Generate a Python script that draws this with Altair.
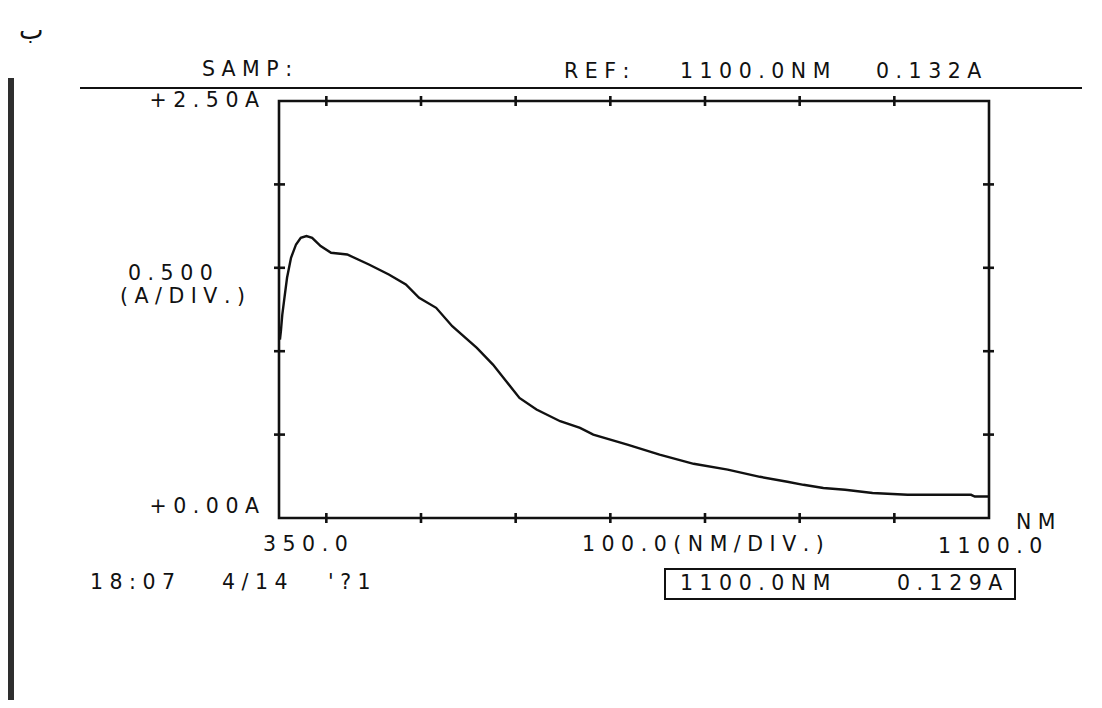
import altair as alt
import pandas as pd

# ---- data ----
wavelength_nm = [351, 352, 353.5, 355.3, 358.5, 362.7, 368, 373, 379, 385, 394, 405, 422, 445,
                 466, 484, 498, 516, 533, 559, 576, 590, 604, 622, 647, 668, 682, 718, 752,
                 788, 824, 858, 887, 904, 925, 948, 977, 1014, 1081, 1085, 1100]
absorbance = [1.07, 1.12, 1.22, 1.30, 1.44, 1.56, 1.64, 1.68, 1.69, 1.68, 1.63, 1.59, 1.58, 1.52,
              1.46, 1.40, 1.32, 1.26, 1.15, 1.02, 0.92, 0.82, 0.72, 0.65, 0.58, 0.54, 0.50, 0.44, 0.38,
              0.325, 0.29, 0.247, 0.217, 0.199, 0.18, 0.169, 0.15, 0.139, 0.139, 0.129, 0.129]
x_ticks = [400, 500, 600, 700, 800, 900, 1000]
y_ticks = [0.5, 1.0, 1.5, 2.0]

W, H = 710, 417
INK = "#111111"
FONT = "DejaVu Sans"
FS = 20.5

curve = pd.DataFrame({"nm": wavelength_nm, "A": absorbance})
xs = alt.Scale(domain=[350, 1100], nice=False, zero=False)
ys = alt.Scale(domain=[0, 2.5], nice=False, zero=False)

line = alt.Chart(curve).mark_line(color=INK, strokeWidth=2.4, strokeJoin="miter").encode(
    x=alt.X("nm:Q", scale=xs, axis=None),
    y=alt.Y("A:Q", scale=ys, axis=None),
)

xt = pd.DataFrame({"nm": x_ticks})
yt = pd.DataFrame({"A": y_ticks})
top_ticks = alt.Chart(xt).mark_rule(color=INK, strokeWidth=2.6).encode(
    x=alt.X("nm:Q", scale=xs, axis=None), y=alt.value(-5), y2=alt.value(5))
bot_ticks = alt.Chart(xt).mark_rule(color=INK, strokeWidth=2.6).encode(
    x=alt.X("nm:Q", scale=xs, axis=None), y=alt.value(H - 5), y2=alt.value(H + 5))
left_ticks = alt.Chart(yt).mark_rule(color=INK, strokeWidth=2.6).encode(
    y=alt.Y("A:Q", scale=ys, axis=None), x=alt.value(-5), x2=alt.value(6))
right_ticks = alt.Chart(yt).mark_rule(color=INK, strokeWidth=2.6).encode(
    y=alt.Y("A:Q", scale=ys, axis=None), x=alt.value(W - 6), x2=alt.value(W + 5))

one = alt.Data(values=[{"k": 0}])


def label(text, x, y, align="left", size=FS):
    return alt.Chart(one).mark_text(text=text, align=align, baseline="middle", font=FONT,
                                    fontSize=size, color=INK).encode(
        x=alt.value(x), y=alt.value(y))


def spaced(s):
    return " ".join(list(s))


header_rule = alt.Chart(one).mark_rule(color=INK, strokeWidth=2).encode(
    x=alt.value(-199), x2=alt.value(803), y=alt.value(-13))
left_bar = alt.Chart(one).mark_rect(color="#2e2e2e").encode(
    x=alt.value(-271), x2=alt.value(-265), y=alt.value(-23), y2=alt.value(600))
box = alt.Chart(one).mark_rect(fill="white", stroke=INK, strokeWidth=2).encode(
    x=alt.value(386), x2=alt.value(736), y=alt.value(468), y2=alt.value(498))

labels = [
    label("ب", -260, -70, size=26),
    label(spaced("SAMP:"), -77, -31),
    label(spaced("REF:"), 285, -29),
    label(spaced("1100.0NM"), 401, -29),
    label(spaced("0.132A"), 597, -29),
    label(spaced("+2.50A"), -20, 0, align="right"),
    label(spaced("+0.00A"), -20, 406, align="right"),
    label(spaced("0.500"), -151, 173),
    label(spaced("(A/DIV.)"), -159, 196),
    label(spaced("350.0"), -16, 444),
    label(spaced("100.0(NM/DIV.)"), 303, 444),
    label(spaced("1100.0"), 659, 446),
    label(spaced("NM"), 737, 422),
    label(spaced("18:07"), -189, 482),
    label(spaced("4/14"), -57, 482),
    label(spaced("'?1"), 49, 482),
    label(spaced("1100.0NM"), 401, 483),
    label(spaced("0.129A"), 618, 483),
]

chart = alt.layer(
    left_bar, header_rule, box, line, top_ticks, bot_ticks, left_ticks, right_ticks, *labels
).properties(
    width=W, height=H,
    padding={"left": 271, "top": 93, "right": 105, "bottom": 182},
    autosize=alt.AutoSizeParams(type="none"),
    background="white",
).configure_view(stroke=INK, strokeWidth=2.6)

chart.save("out.html", embed_options={"renderer": "svg", "actions": False})
